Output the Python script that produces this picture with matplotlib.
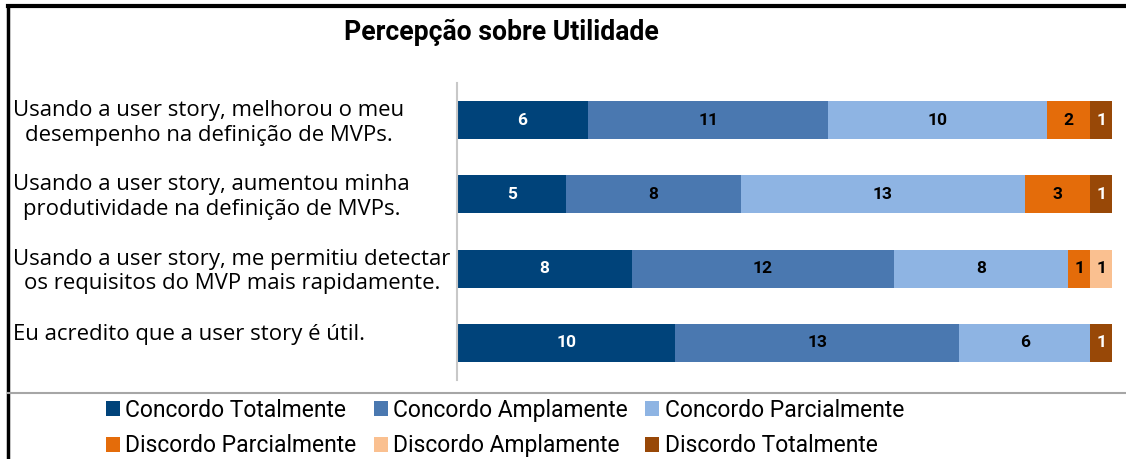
import matplotlib
matplotlib.use("Agg")

import numpy as np
import matplotlib.pyplot as plt
import matplotlib.transforms as mtransforms
from matplotlib.lines import Line2D

# ---- data ----
categories = [
    "Usando a user story, melhorou o meu\ndesempenho na definição de MVPs.",
    "Usando a user story, aumentou minha\nprodutividade na definição de MVPs.",
    "Usando a user story, me permitiu detectar\nos requisitos do MVP mais rapidamente.",
    "Eu acredito que a user story é útil.",
]
series_names = [
    "Concordo Totalmente", "Concordo Amplamente", "Concordo Parcialmente",
    "Discordo Parcialmente", "Discordo Amplamente", "Discordo Totalmente",
]
concordo_totalmente = [6, 5, 8, 10]
concordo_amplamente = [11, 8, 12, 13]
concordo_parcialmente = [10, 13, 8, 6]
discordo_parcialmente = [2, 3, 1, 0]
discordo_amplamente = [0, 0, 1, 0]
discordo_totalmente = [1, 1, 0, 1]

series = [concordo_totalmente, concordo_amplamente, concordo_parcialmente,
          discordo_parcialmente, discordo_amplamente, discordo_totalmente]
colors = ["#00437A", "#4A78B0", "#8EB4E3", "#E46C0A", "#FAC090", "#984807"]
label_colors = ["white", "black", "black", "black", "black", "white"]

NARROW = ["Roboto", "DejaVu Sans"]
WIDE = ["Open Sans", "DejaVu Sans"]

W, H = 1126, 459
fig = plt.figure(figsize=(W / 100, H / 100), dpi=100)
fig.patch.set_facecolor("white")

ax = fig.add_axes([457 / W, 1 - 380 / H, (1112 - 457) / W, (380 - 83) / H])

y = np.arange(len(categories))
left = np.zeros(len(categories))
handles = []
for name, vals, c, tc in zip(series_names, series, colors, label_colors):
    vals = np.array(vals, dtype=float)
    bars = ax.barh(y, vals, left=left, height=0.51, color=c, edgecolor="none", label=name)
    handles.append(bars)
    for b, v in zip(bars, vals):
        if v > 0:
            ax.text(b.get_x() + b.get_width() / 2, b.get_y() + b.get_height() / 2,
                    f"{int(v)}", ha="center", va="center", color=tc,
                    fontsize=12.5, fontweight="bold", family=NARROW)
    left += vals

ax.set_xlim(0, 30)
ax.set_ylim(len(categories) - 0.5, -0.5)
ax.set_xticks([])
ax.set_yticks([])
for side in ("top", "right", "bottom"):
    ax.spines[side].set_visible(False)
ax.spines["left"].set_color("#C8C8C8")
ax.spines["left"].set_linewidth(1.5)
ax.set_facecolor("none")

# category labels, left aligned block, centered lines
trans = mtransforms.blended_transform_factory(fig.transFigure, ax.transData)
for i, cat in enumerate(categories):
    dy = 6 if "\n" not in cat else -2
    ax.annotate(cat, xy=(13 / W, i), xycoords=trans, xytext=(0, dy),
                textcoords="offset points", ha="left", va="center",
                multialignment="center", fontsize=15.9, family=WIDE,
                linespacing=1.22, annotation_clip=False)

# title
fig.text(501 / W, 1 - 32 / H, "Percepção sobre Utilidade", ha="center", va="center",
         fontsize=19.2, fontweight="bold", family=NARROW)

# legend: 3 columns, 2 rows (matplotlib fills column by column)
order = [0, 3, 1, 4, 2, 5]
fig.legend([handles[k] for k in order], [series_names[k] for k in order],
           frameon=False, ncol=3, loc="center left",
           bbox_to_anchor=(106 / W, 1 - 428 / H), bbox_transform=fig.transFigure,
           handlelength=0.6, handleheight=0.6, handletextpad=0.25, columnspacing=0.75,
           labelspacing=0.55, borderpad=0, borderaxespad=0,
           prop={"family": NARROW, "size": 16.5})

# frame lines
fig.add_artist(Line2D([8 / W, 8 / W], [0, 1 - 6 / H], color="black", lw=2.5, transform=fig.transFigure))
fig.add_artist(Line2D([8 / W, 1], [1 - 6 / H, 1 - 6 / H], color="black", lw=3, transform=fig.transFigure))
fig.add_artist(Line2D([8 / W, 1], [1 - 393 / H, 1 - 393 / H], color="#A6A6A6", lw=1.5, transform=fig.transFigure))

fig.savefig("out.png", dpi=100)
